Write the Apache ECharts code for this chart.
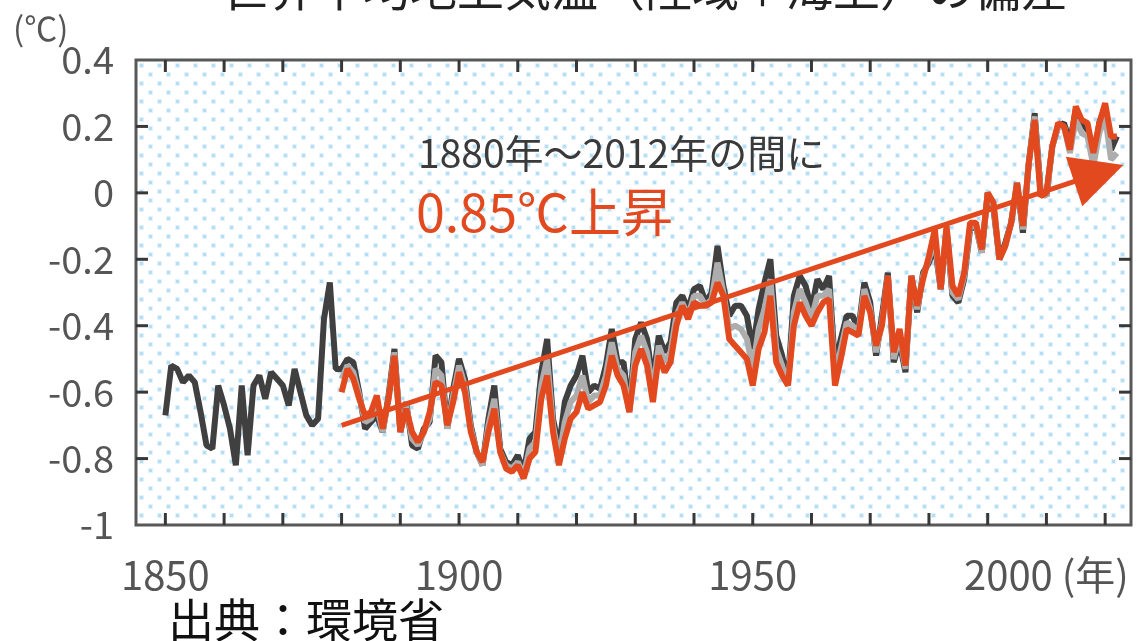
<!DOCTYPE html>
<html><head><meta charset="utf-8">
<script src="https://cdn.jsdelivr.net/npm/echarts@6/dist/echarts.min.js"></script>
<style>html,body{margin:0;padding:0;background:#fff}#c{width:1137px;height:641px}</style>
</head><body><div id="c"></div>
<script>
// ---- data ----
const blackStartYear = 1850;
const otherStartYear = 1880;
const blackValues = [
 -0.67,-0.52,-0.53,-0.57,-0.55,-0.57,-0.66,-0.76,-0.77,-0.58,
 -0.64,-0.71,-0.82,-0.58,-0.79,-0.58,-0.55,-0.62,-0.54,-0.56,
 -0.58,-0.64,-0.53,-0.60,-0.67,-0.70,-0.68,-0.38,-0.27,-0.53,
 -0.53,-0.50,-0.51,-0.60,-0.71,-0.69,-0.67,-0.72,-0.61,-0.47,
 -0.72,-0.63,-0.76,-0.77,-0.71,-0.69,-0.49,-0.51,-0.71,-0.59,
 -0.50,-0.56,-0.70,-0.78,-0.82,-0.68,-0.58,-0.77,-0.81,-0.82,
 -0.79,-0.84,-0.74,-0.72,-0.54,-0.44,-0.68,-0.77,-0.63,-0.58,
 -0.55,-0.49,-0.60,-0.58,-0.59,-0.52,-0.41,-0.51,-0.51,-0.65,
 -0.44,-0.39,-0.44,-0.57,-0.43,-0.48,-0.45,-0.33,-0.31,-0.35,
 -0.29,-0.28,-0.33,-0.30,-0.16,-0.28,-0.37,-0.34,-0.34,-0.37,
 -0.47,-0.35,-0.27,-0.20,-0.43,-0.49,-0.57,-0.31,-0.25,-0.28,
 -0.35,-0.26,-0.29,-0.25,-0.52,-0.44,-0.37,-0.37,-0.41,-0.27,
 -0.33,-0.49,-0.37,-0.24,-0.51,-0.45,-0.54,-0.25,-0.36,-0.24,
 -0.21,-0.16,-0.29,-0.11,-0.31,-0.33,-0.26,-0.11,-0.10,-0.18,
 0.00,-0.05,-0.20,-0.15,-0.09,0.03,-0.12,0.09,0.24,0.01,
 -0.01,0.14,0.20,0.21,0.15,0.25,0.21,0.19,0.10,0.21,
 0.26,0.13,0.17
];
const grayValues = [
 -0.56,-0.52,-0.54,-0.61,-0.69,-0.68,-0.64,-0.72,-0.62,-0.48,
 -0.72,-0.64,-0.74,-0.76,-0.72,-0.68,-0.53,-0.55,-0.71,-0.61,
 -0.52,-0.58,-0.71,-0.78,-0.82,-0.70,-0.62,-0.78,-0.82,-0.83,
 -0.81,-0.85,-0.77,-0.75,-0.58,-0.50,-0.70,-0.80,-0.69,-0.63,
 -0.61,-0.55,-0.63,-0.61,-0.61,-0.55,-0.45,-0.53,-0.55,-0.66,
 -0.48,-0.43,-0.48,-0.60,-0.46,-0.51,-0.48,-0.37,-0.33,-0.37,
 -0.31,-0.31,-0.34,-0.32,-0.21,-0.30,-0.41,-0.40,-0.41,-0.44,
 -0.53,-0.41,-0.35,-0.26,-0.47,-0.52,-0.58,-0.36,-0.29,-0.33,
 -0.38,-0.31,-0.31,-0.29,-0.55,-0.47,-0.39,-0.40,-0.42,-0.29,
 -0.35,-0.48,-0.39,-0.25,-0.50,-0.43,-0.53,-0.25,-0.35,-0.25,
 -0.20,-0.14,-0.29,-0.11,-0.30,-0.32,-0.25,-0.10,-0.10,-0.18,
 0.00,-0.04,-0.20,-0.16,-0.09,0.03,-0.11,0.09,0.23,0.00,
 -0.01,0.14,0.20,0.20,0.12,0.22,0.18,0.17,0.08,0.18,
 0.23,0.10,0.12
];
const orangeValues = [
 -0.60,-0.53,-0.56,-0.62,-0.67,-0.66,-0.61,-0.71,-0.62,-0.49,
 -0.72,-0.65,-0.72,-0.75,-0.72,-0.66,-0.57,-0.58,-0.70,-0.63,
 -0.54,-0.60,-0.72,-0.78,-0.81,-0.72,-0.65,-0.78,-0.83,-0.84,
 -0.82,-0.86,-0.80,-0.78,-0.62,-0.55,-0.72,-0.82,-0.74,-0.68,
 -0.66,-0.60,-0.65,-0.64,-0.63,-0.58,-0.49,-0.55,-0.58,-0.66,
 -0.52,-0.47,-0.52,-0.63,-0.49,-0.54,-0.51,-0.40,-0.34,-0.38,
 -0.33,-0.34,-0.34,-0.33,-0.27,-0.31,-0.44,-0.46,-0.48,-0.50,
 -0.58,-0.47,-0.42,-0.31,-0.51,-0.55,-0.58,-0.40,-0.33,-0.37,
 -0.40,-0.36,-0.33,-0.32,-0.58,-0.50,-0.41,-0.42,-0.43,-0.31,
 -0.36,-0.46,-0.40,-0.25,-0.48,-0.41,-0.52,-0.25,-0.34,-0.26,
 -0.19,-0.11,-0.29,-0.10,-0.28,-0.31,-0.24,-0.09,-0.09,-0.17,
 0.00,-0.03,-0.20,-0.16,-0.09,0.03,-0.10,0.09,0.22,-0.01,
 0.00,0.14,0.21,0.20,0.13,0.26,0.22,0.21,0.12,0.21,
 0.27,0.17,0.17
];
const xTickValues = [1850,1860,1870,1880,1890,1900,1910,1920,1930,1940,1950,1960,1970,1980,1990,2000,2010];
const xLabelValues = [1850,1900,1950,2000];
const xUnitLabel = '(年)';
const yTickValues = [-0.8,-0.6,-0.4,-0.2,0,0.2];
const xMin = 1845, xMax = 2014.4;
const yMin = -1, yMax = 0.4, yStep = 0.2;
const arrowStart = [1880, -0.70];
const arrowEnd = [2008.9, 0.059];
const titleText = '世界平均地上気温（陸域＋海上）の偏差';
const unitText = '(℃)';
const noteLine1 = '1880年～2012年の間に';
const noteLine2 = '0.85℃上昇';
const sourceText = '出典：環境省';

// ---- styles ----
const FONT = '"Noto Sans CJK JP","Noto Sans",sans-serif';
const ORANGE = '#e2491f';
const BLACK = '#404040';
const GRAY = '#adadad';
const FRAME = '#585858';
const TICK = '#383838';
const TICK_LEN = 12;
const DOT_STEP = 18, DOT_ROW = 9;

const toPairs = (start, arr) => arr.map((v,i)=>[start+i, v]);

// decorative dotted plot background (pixel pattern inside the plot frame)
function dotsRender(params, api){
  const tl = api.coord([xMin, yMax]);
  const br = api.coord([xMax, yMin]);
  const children = [];
  let row = 0;
  for (let y = tl[1] + 5; y < br[1] - 2; y += DOT_ROW, row++) {
    const off = (row % 2) ? DOT_STEP / 2 : 0;
    for (let x = tl[0] + 5 + off; x < br[0] - 2; x += DOT_STEP) {
      children.push({type:'rect', shape:{x:x-2, y:y-2, width:5, height:5}, style:{fill:'#e2f3fc'}, silent:true});
      children.push({type:'rect', shape:{x:x-1, y:y-1, width:3, height:3}, style:{fill:'#b4def5'}, silent:true});
    }
  }
  return {type:'group', children:children};
}
// tick marks drawn through the axes' scales (inside the frame, all four sides)
function xTickRender(params, api){
  const x = api.value(0);
  const b = api.coord([x, yMin]);
  const t = api.coord([x, yMax]);
  const st = {stroke:TICK, lineWidth:3};
  return {type:'group', children:[
    {type:'line', shape:{x1:b[0], y1:b[1], x2:b[0], y2:b[1]-TICK_LEN}, style:st},
    {type:'line', shape:{x1:t[0], y1:t[1], x2:t[0], y2:t[1]+TICK_LEN}, style:st}
  ]};
}
function yTickRender(params, api){
  const y = api.value(1);
  const l = api.coord([xMin, y]);
  const r = api.coord([xMax, y]);
  const st = {stroke:TICK, lineWidth:3};
  return {type:'group', children:[
    {type:'line', shape:{x1:l[0], y1:l[1], x2:l[0]+TICK_LEN, y2:l[1]}, style:st},
    {type:'line', shape:{x1:r[0], y1:r[1], x2:r[0]-TICK_LEN, y2:r[1]}, style:st}
  ]};
}

const chart = echarts.init(document.getElementById('c'));
chart.setOption({
  animation:false,
  grid:{left:136, right:6, top:60, bottom:116, show:true,
        backgroundColor:'#ffffff', borderColor:FRAME, borderWidth:3},
  xAxis:{type:'value', min:xMin, max:xMax, position:'bottom', z:6,
    axisLine:{show:false, onZero:false},
    axisTick:{show:false},
    splitLine:{show:false},
    axisLabel:{customValues:xLabelValues, fontSize:40, color:'#555', fontFamily:FONT, margin:30,
      formatter:v => v===2000 ? (v + ' ' + xUnitLabel) : String(v)}},
  yAxis:{type:'value', min:yMin, max:yMax, interval:yStep, z:6,
    axisLine:{show:false, onZero:false},
    axisTick:{show:false},
    splitLine:{show:false},
    axisLabel:{fontSize:38, color:'#555', fontFamily:FONT, margin:22,
      formatter:v => String(Math.round(v*10)/10)}},
  series:[
    {type:'custom', renderItem:dotsRender, data:[[xMin, yMin]], silent:true, z:1},
    {type:'line', data:toPairs(blackStartYear, blackValues), symbol:'none', z:2,
     lineStyle:{color:BLACK, width:6}},
    {type:'line', data:toPairs(otherStartYear, grayValues), symbol:'none', z:3,
     lineStyle:{color:GRAY, width:6}},
    {type:'line', data:toPairs(otherStartYear, orangeValues), symbol:'none', z:4,
     lineStyle:{color:ORANGE, width:6},
     markLine:{silent:true, symbol:['none','triangle'], symbolSize:52, animation:false,
       label:{show:false}, lineStyle:{color:ORANGE, width:5, type:'solid'},
       emphasis:{disabled:true},
       data:[[{coord:arrowStart},{coord:arrowEnd}]]}},
    {type:'custom', renderItem:xTickRender, data:xTickValues.map(v=>[v, yMin]), z:10},
    {type:'custom', renderItem:yTickRender, data:yTickValues.map(v=>[xMin, v]), z:10}
  ],
  graphic:[
    {type:'text', x:222, y:-12, style:{text:titleText, font:'47px '+FONT, fill:'#222', align:'left', verticalAlign:'middle'}},
    {type:'text', x:13, y:28, style:{text:unitText, font:'33px '+FONT, fill:'#555', align:'left', verticalAlign:'middle'}},
    {type:'text', x:418, y:153, z:100, style:{text:noteLine1, font:'39px '+FONT, fill:'#3a3a3a', align:'left', verticalAlign:'middle'}},
    {type:'text', x:416, y:212, z:100, style:{text:noteLine2, font:'52px '+FONT, fill:ORANGE, align:'left', verticalAlign:'middle'}},
    {type:'text', x:168, y:620, style:{text:sourceText, font:'46px '+FONT, fill:'#111', align:'left', verticalAlign:'middle'}}
  ]
});
</script></body></html>
